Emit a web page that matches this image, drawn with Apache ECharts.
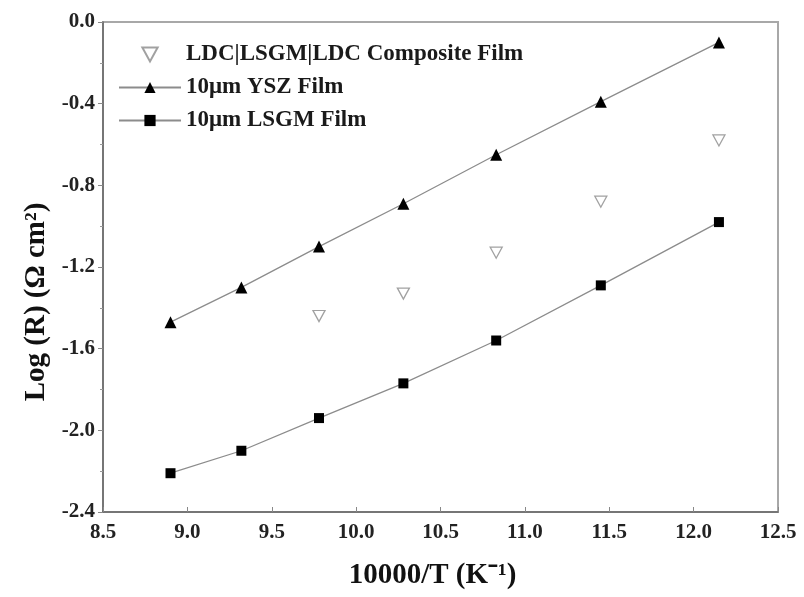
<!DOCTYPE html>
<html>
<head>
<meta charset="utf-8">
<title>Area specific resistance vs. inverse temperature</title>
<script src="https://cdn.jsdelivr.net/npm/echarts@6/dist/echarts.min.js"></script>
<style>
  html, body { margin: 0; padding: 0; background: #fff; }
  #chart { width: 804px; height: 597px; }
</style>
</head>
<body>
<div id="chart"></div>
<script>
// Inverse temperature, 10000/T (K^-1): 850 ... 550 °C
const invTemp = [8.90, 9.32, 9.78, 10.28, 10.83, 11.45, 12.15];
// Log of area specific resistance, Log(R) in Ω·cm²
const yszFilm = [-1.47, -1.30, -1.10, -0.89, -0.65, -0.39, -0.10];
const lsgmFilm = [-2.21, -2.10, -1.94, -1.77, -1.56, -1.29, -0.98];
// Composite film measured from 750 °C downwards
const compositeTemp = [9.78, 10.28, 10.83, 11.45, 12.15];
const compositeFilm = [-1.44, -1.33, -1.13, -0.88, -0.58];

const seriesNames = ['LDC|LSGM|LDC Composite Film', '10\u03bcm YSZ Film', '10\u03bcm LSGM Film'];
const xTicks = { min: 8.5, max: 12.5, step: 0.5 };
const yTicks = { min: -2.4, max: 0.0, step: 0.4 };

const pairs = (xs, ys) => xs.map((x, i) => [x, ys[i]]);

const serif = '"Liberation Serif", "Times New Roman", serif';
const downTriangle = 'path://M0,0 L12,0 L6,11 Z';

const chart = echarts.init(document.getElementById('chart'), null, { renderer: 'canvas' });

chart.setOption({
  backgroundColor: '#ffffff',
  animation: false,
  grid: {
    left: 103, right: 26, top: 22, bottom: 85,
    show: true, borderColor: '#a8a8a8', borderWidth: 2, backgroundColor: 'transparent'
  },
  legend: {
    orient: 'vertical',
    left: 113, top: 38,
    itemWidth: 62, itemHeight: 14, itemGap: 10,
    textStyle: { fontFamily: serif, fontWeight: 'bold', fontSize: 23, color: '#1a1a1a' },
    data: seriesNames
  },
  xAxis: {
    type: 'value',
    min: xTicks.min, max: xTicks.max, interval: xTicks.step,
    name: '10000/T (K\u207b\u00b9)',
    nameLocation: 'middle', nameGap: 49,
    nameTextStyle: { fontFamily: serif, fontWeight: 'bold', fontSize: 29, color: '#111', padding: [0, 16, 0, 0] },
    axisLine: { show: true, onZero: false, lineStyle: { color: '#666', width: 1.5 } },
    axisTick: { show: true, inside: true, length: 5, lineStyle: { color: '#888' } },
    axisLabel: {
      margin: 10, fontFamily: serif, fontWeight: 'bold', fontSize: 21, color: '#222',
      formatter: v => v.toFixed(1)
    },
    splitLine: { show: false }
  },
  yAxis: {
    type: 'value',
    min: yTicks.min, max: yTicks.max, interval: yTicks.step,
    name: 'Log (R) (\u03a9 cm\u00b2)',
    nameLocation: 'middle', nameGap: 44, nameRotate: 90,
    nameTextStyle: { fontFamily: serif, fontWeight: 'bold', fontSize: 29, color: '#111', padding: [0, 70, 0, 0] },
    axisLine: { show: true, onZero: false, lineStyle: { color: '#666', width: 1.5 } },
    axisTick: { show: true, inside: false, length: 5, lineStyle: { color: '#888' } },
    minorTick: { show: true, splitNumber: 2, length: 3, lineStyle: { color: '#999' } },
    axisLabel: {
      margin: 8, fontFamily: serif, fontWeight: 'bold', fontSize: 21, color: '#222',
      formatter: v => v.toFixed(1)
    },
    splitLine: { show: false }
  },
  series: [
    {
      name: seriesNames[0],
      type: 'scatter',
      symbol: downTriangle,
      symbolSize: [12, 11],
      itemStyle: { color: '#ffffff', borderColor: '#8a8a8a', borderWidth: 1.3 },
      data: pairs(compositeTemp, compositeFilm),
      z: 3
    },
    {
      name: seriesNames[1],
      type: 'line',
      symbol: 'triangle',
      symbolSize: 12,
      showAllSymbol: true,
      lineStyle: { color: '#8c8c8c', width: 1.3 },
      itemStyle: { color: '#000000' },
      data: pairs(invTemp, yszFilm),
      z: 4
    },
    {
      name: seriesNames[2],
      type: 'line',
      symbol: 'rect',
      symbolSize: 10,
      showAllSymbol: true,
      lineStyle: { color: '#8c8c8c', width: 1.3 },
      itemStyle: { color: '#000000' },
      data: pairs(invTemp, lsgmFilm),
      z: 4
    }
  ]
});
</script>
</body>
</html>
